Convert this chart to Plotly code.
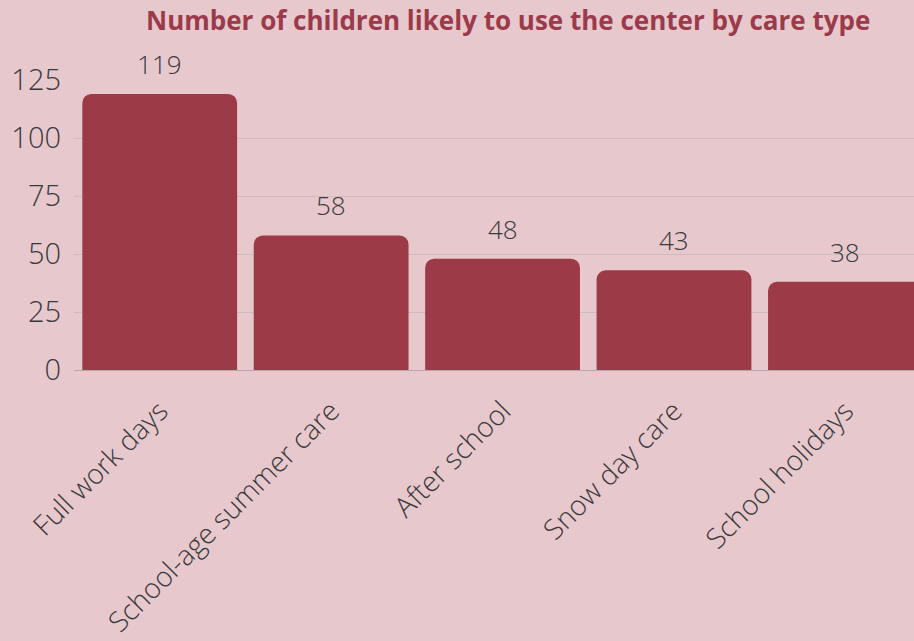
import plotly.graph_objects as go

categories = ["Full work days", "School-age summer care", "After school", "Snow day care", "School holidays"]
values = [119, 58, 48, 43, 38]
y_ticks = [0, 25, 50, 75, 100, 125]

BG = "#e7c8cc"
BAR = "#9c3b47"
TXT = "#3a3a3a"

fig = go.Figure(go.Bar(
    x=categories, y=values,
    marker=dict(color=BAR, cornerradius=9, line=dict(width=0)),
    hoverinfo="skip",
))

for c, v in zip(categories, values):
    fig.add_annotation(x=c, y=v, text=str(v), showarrow=False, yshift=30,
                       font=dict(family="Open Sans", size=26, color=TXT, weight=300))

fig.update_layout(
    width=914, height=641,
    paper_bgcolor=BG, plot_bgcolor=BG,
    margin=dict(l=74, r=0, t=80, b=271, autoexpand=False),
    bargap=0.097,
    showlegend=False,
    title=dict(text="<b>Number of children likely to use the center by care type</b>",
               x=0.556, xanchor="center", y=0.968, yanchor="middle",
               font=dict(family="Open Sans", size=26, color="#9b3a4a")),
    font=dict(family="Open Sans", color=TXT),
    xaxis=dict(range=[-0.5, 4.4], tickangle=-45, showgrid=False, automargin=False,
               tickfont=dict(size=28, color=TXT, family="Open Sans", weight=300),
               ticks="", showline=False, zeroline=False, ticklabelstandoff=18),
    yaxis=dict(range=[0, 125], tickvals=y_ticks, showgrid=True, gridcolor="#cfbbbe",
               gridwidth=1, zeroline=True, zerolinecolor="#b9a7b0", zerolinewidth=1,
               automargin=False,
               tickfont=dict(size=29, color=TXT, family="Open Sans", weight=300),
               ticks="", ticklabelstandoff=12),
)

fig.write_html("out.html", config={"displayModeBar": False},
               post_script="document.body.style.margin='0';")
